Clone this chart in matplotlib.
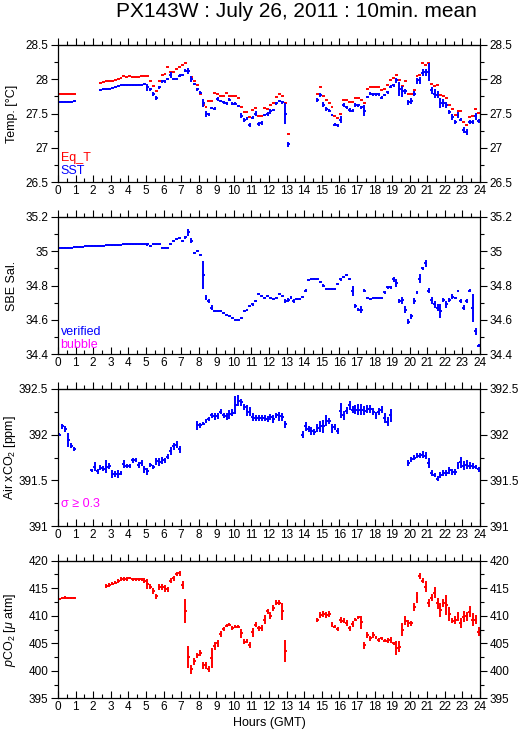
import numpy as np
import matplotlib
matplotlib.use("Agg")
import matplotlib.pyplot as plt
from matplotlib.ticker import MultipleLocator, FormatStrFormatter

nan = np.nan

# 10-minute means, one row per hour (6 values each)
sst = [
    27.66, 27.67, 27.67, 27.67, 27.67, 27.68,
    nan, nan, nan, nan, nan, nan,
    nan, nan, 27.84, 27.85, 27.85, 27.86,
    27.87, 27.88, 27.90, 27.91, 27.91, 27.91,
    27.91, 27.91, 27.91, 27.92, 27.92, 27.93,
    27.88, 27.85, 27.78, 27.72, 27.88, 27.97,
    27.97, 28.00, 28.06, 28.00, 28.00, 28.05,
    28.06, 28.12, 28.12, 28.00, 27.93, 27.85,
    27.80, 27.65, 27.49, 27.49, 27.58, 27.57,
    27.71, 27.68, 27.66, 27.65, 27.70, 27.64,
    27.64, 27.61, 27.47, 27.40, 27.43, 27.33,
    27.44, 27.50, 27.35, 27.36, 27.48, 27.49,
    27.53, 27.55, 27.65, 27.68, 27.66, 27.50,
    27.05, nan, nan, nan, nan, nan,
    nan, nan, nan, nan, 27.69, 27.77,
    27.63, 27.56, 27.54, 27.48, 27.34, 27.33,
    27.41, 27.62, 27.59, 27.55, 27.54, 27.62,
    27.62, 27.59, 27.54, 27.74, 27.79, 27.78,
    27.78, 27.78, 27.73, 27.77, 27.81, 27.89,
    27.91, 27.98, 27.86, 27.82, 27.82, 27.66,
    27.68, 27.79, 27.97, 27.98, 28.09, 28.10,
    28.10, 27.84, 27.79, 27.77, 27.65, 27.65,
    27.62, 27.52, 27.45, 27.38, 27.48, 27.41,
    27.26, 27.23, 27.38, 27.38, 27.46, 27.39,
]
sst_err = [
    0.01, 0.01, 0.01, 0.01, 0.01, 0.01,
    0, 0, 0, 0, 0, 0,
    0, 0, 0.01, 0.01, 0.01, 0.01,
    0.01, 0.01, 0.01, 0.01, 0.01, 0.01,
    0.01, 0.01, 0.01, 0.01, 0.01, 0.02,
    0.05, 0.02, 0.03, 0.03, 0.02, 0.02,
    0.02, 0.02, 0.04, 0.02, 0.02, 0.02,
    0.02, 0.02, 0.04, 0.04, 0.02, 0.02,
    0.02, 0.06, 0.04, 0.02, 0.02, 0.02,
    0.03, 0.02, 0.02, 0.02, 0.02, 0.02,
    0.02, 0.02, 0.04, 0.03, 0.02, 0.03,
    0.02, 0.03, 0.03, 0.03, 0.02, 0.03,
    0.03, 0.02, 0.02, 0.02, 0.02, 0.15,
    0.03, 0, 0, 0, 0, 0,
    0, 0, 0, 0, 0.03, 0.03,
    0.03, 0.03, 0.02, 0.02, 0.02, 0.02,
    0.05, 0.03, 0.02, 0.03, 0.02, 0.03,
    0.02, 0.02, 0.08, 0.02, 0.02, 0.02,
    0.02, 0.02, 0.02, 0.02, 0.02, 0.02,
    0.02, 0.03, 0.10, 0.08, 0.04, 0.04,
    0.04, 0.04, 0.04, 0.05, 0.05, 0.05,
    0.13, 0.05, 0.07, 0.05, 0.07, 0.06,
    0.04, 0.03, 0.04, 0.03, 0.04, 0.02,
    0.05, 0.04, 0.03, 0.03, 0.05, 0.03,
]
eq_t = [
    27.78, 27.78, 27.79, 27.79, 27.78, 27.79,
    nan, nan, nan, nan, nan, nan,
    nan, nan, 27.95, 27.96, 27.97, 27.97,
    27.97, 27.99, 28.00, 28.02, 28.04, 28.03,
    28.04, 28.03, 28.03, 28.03, 28.04, 28.04,
    28.04, 27.97, 27.90, 27.83, 27.97, 28.06,
    28.08, 28.17, 28.10, 28.10, 28.14, 28.17,
    28.21, 28.23, 28.12, 28.03, 27.97, 27.91,
    27.78, 27.63, 27.60, 27.68, 27.68, 27.80,
    27.79, 27.75, 27.76, 27.80, 27.75, 27.75,
    27.75, 27.72, 27.60, 27.52, 27.52, 27.45,
    27.55, 27.58, 27.46, 27.47, 27.58, 27.57,
    27.63, 27.65, 27.74, 27.78, 27.76, 27.65,
    27.20, nan, nan, nan, nan, nan,
    nan, nan, nan, nan, 27.79, 27.88,
    27.75, 27.69, 27.65, 27.60, 27.46, 27.43,
    27.49, 27.70, 27.69, 27.66, 27.66, 27.72,
    27.72, 27.70, 27.65, 27.85, 27.88, 27.88,
    27.89, 27.88, 27.84, 27.85, 27.91, 27.98,
    28.02, 28.06, 27.98, 27.90, 27.97, 27.78,
    27.78, 27.84, 28.05, 28.06, 28.23, 28.20,
    28.23, 27.93, 27.90, 27.91, 27.77, 27.76,
    27.72, 27.62, 27.56, 27.48, 27.54, 27.53,
    27.38, 27.33, 27.45, 27.47, 27.56, 27.51,
]
sal = [
    35.020, 35.020, 35.020, 35.020, 35.020, 35.025,
    35.025, 35.025, 35.025, 35.030, 35.030, 35.030,
    35.030, 35.030, 35.030, 35.030, 35.035, 35.035,
    35.035, 35.035, 35.035, 35.035, 35.040, 35.040,
    35.040, 35.040, 35.040, 35.040, 35.040, 35.040,
    35.040, 35.030, 35.040, 35.040, 35.040, 35.020,
    35.020, 35.020, 35.040, 35.060, 35.070, 35.075,
    35.060, 35.080, 35.110, 35.060, 34.990, 35.000,
    34.980, 34.860, 34.730, 34.710, 34.670, 34.650,
    34.650, 34.650, 34.640, 34.630, 34.620, 34.610,
    34.600, 34.600, 34.610, 34.650, 34.660, 34.680,
    34.690, 34.710, 34.750, 34.740, 34.730, 34.740,
    34.730, 34.720, 34.730, 34.750, 34.740, 34.710,
    34.715, 34.730, 34.710, 34.720, 34.720, 34.735,
    34.770, 34.830, 34.835, 34.840, 34.835, 34.820,
    34.800, 34.780, 34.780, 34.780, 34.780, 34.810,
    34.835, 34.850, 34.860, 34.840, 34.770, 34.680,
    34.660, 34.660, 34.770, 34.730, 34.720, 34.725,
    34.730, 34.725, 34.725, 34.760, 34.790, 34.790,
    34.835, 34.815, 34.710, 34.715, 34.660, 34.590,
    34.620, 34.710, 34.760, 34.840, 34.900, 34.930,
    34.770, 34.715, 34.690, 34.670, 34.650, 34.715,
    34.690, 34.715, 34.735, 34.730, 34.770, 34.710,
    34.670, 34.710, 34.770, 34.670, 34.535, 34.450,
]
sal_err = [
    0.003, 0.003, 0.003, 0.003, 0.003, 0.003,
    0.003, 0.003, 0.003, 0.003, 0.003, 0.003,
    0.003, 0.003, 0.003, 0.003, 0.003, 0.003,
    0.003, 0.003, 0.003, 0.003, 0.003, 0.003,
    0.003, 0.003, 0.003, 0.003, 0.003, 0.003,
    0.008, 0.005, 0.003, 0.004, 0.003, 0.003,
    0.003, 0.003, 0.005, 0.005, 0.004, 0.004,
    0.006, 0.010, 0.020, 0.015, 0.006, 0.008,
    0.006, 0.080, 0.015, 0.010, 0.015, 0.006,
    0.004, 0.004, 0.004, 0.004, 0.004, 0.004,
    0.003, 0.003, 0.005, 0.006, 0.006, 0.006,
    0.010, 0.006, 0.004, 0.005, 0.005, 0.005,
    0.004, 0.004, 0.004, 0.005, 0.005, 0.012,
    0.010, 0.008, 0.012, 0.005, 0.005, 0.006,
    0.010, 0.004, 0.004, 0.004, 0.004, 0.004,
    0.008, 0.006, 0.004, 0.004, 0.004, 0.006,
    0.006, 0.005, 0.004, 0.006, 0.030, 0.010,
    0.010, 0.020, 0.010, 0.005, 0.004, 0.004,
    0.004, 0.004, 0.004, 0.010, 0.010, 0.010,
    0.015, 0.025, 0.010, 0.020, 0.020, 0.015,
    0.015, 0.020, 0.010, 0.025, 0.010, 0.020,
    0.015, 0.020, 0.020, 0.020, 0.040, 0.010,
    0.020, 0.010, 0.015, 0.006, 0.006, 0.010,
    0.015, 0.010, 0.010, 0.080, 0.020, 0.010,
]
air = [
    392.00, 392.09, 392.06, 391.94, 391.88, 391.84,
    nan, nan, nan, nan, nan, 391.61,
    391.65, 391.60, 391.64, 391.63, 391.65, 391.66,
    391.57, 391.57, 391.57, 391.58, 391.68, 391.66,
    391.66, 391.72, 391.72, 391.67, 391.69, 391.62,
    391.60, 391.67, 391.65, 391.71, 391.70, 391.72,
    391.72, 391.76, 391.82, 391.87, 391.89, 391.84,
    nan, nan, nan, nan, nan, 392.10,
    392.10, 392.12, 392.15, 392.17, 392.21, 392.20,
    392.20, 392.25, 392.21, 392.20, 392.22, 392.24,
    392.32, 392.37, 392.35, 392.30, 392.26, 392.25,
    392.19, 392.18, 392.18, 392.18, 392.18, 392.17,
    392.19, 392.17, 392.21, 392.20, 392.19, 392.11,
    nan, nan, nan, nan, nan, 392.00,
    392.09, 392.06, 392.04, 392.03, 392.07, 392.09,
    392.09, 392.15, 392.15, 392.07, 392.08, 392.04,
    392.26, 392.21, 392.26, 392.32, 392.27, 392.27,
    392.27, 392.27, 392.26, 392.28, 392.28, 392.25,
    392.21, 392.25, 392.27, 392.18, 392.14, 392.21,
    nan, nan, nan, nan, nan, 391.69,
    391.73, 391.75, 391.77, 391.77, 391.78, 391.77,
    391.69, 391.58, 391.56, 391.52, 391.56, 391.58,
    391.58, 391.61, 391.59, 391.59, 391.66, 391.70,
    391.66, 391.67, 391.66, 391.66, 391.65, 391.62,
]
air_err = [
    0.02, 0.03, 0.03, 0.08, 0.03, 0.02,
    0, 0, 0, 0, 0, 0.02,
    0.05, 0.03, 0.03, 0.03, 0.07, 0.03,
    0.04, 0.03, 0.04, 0.02, 0.04, 0.02,
    0.02, 0.03, 0.02, 0.03, 0.03, 0.04,
    0.04, 0.02, 0.02, 0.04, 0.04, 0.04,
    0.03, 0.03, 0.04, 0.04, 0.04, 0.04,
    0, 0, 0, 0, 0, 0.05,
    0.03, 0.02, 0.02, 0.02, 0.03, 0.04,
    0.03, 0.03, 0.03, 0.04, 0.05, 0.04,
    0.10, 0.06, 0.04, 0.03, 0.06, 0.05,
    0.04, 0.03, 0.03, 0.03, 0.03, 0.03,
    0.03, 0.04, 0.03, 0.05, 0.04, 0.04,
    0, 0, 0, 0, 0, 0.04,
    0.05, 0.03, 0.04, 0.03, 0.04, 0.06,
    0.07, 0.06, 0.03, 0.05, 0.03, 0.03,
    0.08, 0.05, 0.04, 0.05, 0.04, 0.05,
    0.06, 0.06, 0.05, 0.04, 0.04, 0.04,
    0.04, 0.04, 0.04, 0.05, 0.05, 0.07,
    0, 0, 0, 0, 0, 0.03,
    0.03, 0.03, 0.03, 0.03, 0.04, 0.04,
    0.05, 0.03, 0.02, 0.03, 0.03, 0.03,
    0.03, 0.04, 0.03, 0.03, 0.04, 0.06,
    0.05, 0.05, 0.04, 0.03, 0.02, 0.03,
]
pco2 = [
    413.0, 413.2, 413.3, 413.2, 413.2, 413.2,
    nan, nan, nan, nan, nan, nan,
    nan, nan, nan, nan, 415.4, 415.6,
    415.8, 416.0, 416.3, 416.7, 416.7, 416.7,
    416.8, 416.6, 416.6, 416.6, 416.6, 416.4,
    415.7, 415.3, 414.5, 413.5, 415.2, 415.2,
    415.0, 414.8, 416.4, 416.8, 417.6, 417.7,
    415.6, 410.9, 402.5, 400.3, 401.7, 402.8,
    403.2, 401.0, 401.0, 400.3, 402.3, 404.5,
    405.0, 406.7, 407.6, 408.2, 408.4, 407.8,
    408.0, 408.0, 406.8, 405.3, 405.4, 404.7,
    407.0, 408.4, 407.7, 407.8, 409.3, 410.8,
    410.0, 411.4, 412.4, 412.4, 410.8, 403.6,
    nan, nan, nan, nan, nan, nan,
    nan, nan, nan, nan, 409.2, 410.1,
    410.3, 410.1, 410.3, 408.4, 408.0, 407.6,
    409.2, 409.1, 408.7, 407.7, 408.5, 409.3,
    409.7, 408.8, 404.6, 406.5, 405.9, 406.5,
    406.1, 405.6, 405.9, 405.5, 405.5, 405.6,
    405.0, 404.1, 404.4, 407.5, 409.1, 408.6,
    408.6, 411.6, 413.3, 417.2, 416.4, 415.3,
    412.3, 413.3, 414.2, 412.3, 411.0, 412.3,
    412.0, 410.3, 409.1, 409.2, 409.8, 408.7,
    409.8, 409.9, 410.7, 409.3, 409.3, 407.1,
]
pco2_err = [
    0.2, 0.2, 0.2, 0.2, 0.2, 0.2,
    0, 0, 0, 0, 0, 0,
    0, 0, 0, 0, 0.3, 0.3,
    0.3, 0.3, 0.3, 0.3, 0.3, 0.3,
    0.2, 0.2, 0.2, 0.2, 0.2, 0.4,
    0.9, 0.4, 0.6, 0.4, 0.6, 0.6,
    0.6, 0.5, 0.4, 0.4, 0.4, 0.4,
    0.8, 2.2, 2.0, 0.8, 0.7, 0.5,
    0.5, 0.6, 0.6, 0.5, 1.8, 0.8,
    0.6, 0.5, 0.4, 0.3, 0.3, 0.3,
    0.3, 0.3, 0.8, 0.5, 0.4, 0.5,
    0.8, 0.4, 0.5, 0.6, 0.8, 0.5,
    0.6, 0.5, 0.4, 0.4, 1.5, 2.0,
    0, 0, 0, 0, 0, 0,
    0, 0, 0, 0, 0.4, 0.6,
    0.5, 0.5, 0.5, 0.4, 0.3, 0.4,
    0.6, 0.5, 0.5, 0.4, 0.5, 0.3,
    0.3, 1.2, 0.6, 0.5, 0.4, 0.5,
    0.3, 0.3, 0.3, 0.3, 0.4, 0.5,
    0.3, 1.3, 1.0, 1.2, 0.8, 0.6,
    0.4, 0.7, 1.0, 0.6, 0.5, 1.0,
    0.8, 0.7, 1.0, 1.0, 1.3, 0.7,
    1.8, 1.3, 0.5, 0.7, 0.8, 0.9,
    1.0, 0.8, 1.0, 1.2, 0.8, 0.8,
]

hours = (np.arange(144) + 0.5) / 6.0
half = 5.0 / 60.0

plt.rcParams['font.family'] = ['Liberation Sans', 'DejaVu Sans']
plt.rcParams['mathtext.fontset'] = 'custom'
plt.rcParams['mathtext.rm'] = 'Liberation Sans'
plt.rcParams['mathtext.it'] = 'Liberation Sans:italic'

fig = plt.figure(figsize=(5.29, 7.39), dpi=100)
fig.text(0.561, 0.984, "PX143W : July 26, 2011 : 10min. mean", ha='center', va='center', fontsize=15)

left, width, height = 58 / 529, 422 / 529, 137.6 / 739
bottoms = [1 - 182.3 / 739, 1 - 354.3 / 739, 1 - 526.3 / 739, 1 - 698.3 / 739]


def setup_axis(ax, ylim, major, minor, label):
    ax.set_xlim(0, 24)
    ax.set_ylim(*ylim)
    ax.xaxis.set_major_locator(MultipleLocator(1))
    ax.xaxis.set_minor_locator(MultipleLocator(0.5))
    ax.yaxis.set_major_locator(MultipleLocator(major))
    ax.yaxis.set_minor_locator(MultipleLocator(minor))
    ax.yaxis.set_major_formatter(FormatStrFormatter('%g'))
    ax.tick_params(axis='y', which='both', direction='out', left=True, right=True,
                   labelright=True)
    ax.tick_params(axis='x', which='both', direction='in', top=False)
    ax.tick_params(which='both', labelsize=8.5, width=0.8, pad=2)
    ax.tick_params(which='major', length=5)
    ax.tick_params(which='minor', length=3)
    # top ticks point outward
    top = ax.secondary_xaxis('top')
    top.xaxis.set_major_locator(MultipleLocator(1))
    top.xaxis.set_minor_locator(MultipleLocator(0.5))
    top.tick_params(which='both', direction='out', labeltop=False, width=0.8)
    top.tick_params(which='major', length=5)
    top.tick_params(which='minor', length=3)
    ax.set_ylabel(label, fontsize=9)
    ax.yaxis.set_label_coords(-0.094, 0.5)
    for s in ax.spines.values():
        s.set_linewidth(0.9)


# Temperature
ax1 = fig.add_axes([left, bottoms[0], width, height])
ax1.errorbar(hours, eq_t, xerr=half, fmt='none', ecolor='red', elinewidth=1.4)
ax1.errorbar(hours, sst, xerr=half, yerr=sst_err, fmt='none', ecolor='blue', elinewidth=1.4)
setup_axis(ax1, (26.5, 28.5), 0.5, 0.25, "Temp. [\u00b0C]")
ax1.text(0.006, 0.177, "Eq_T", color='red', transform=ax1.transAxes, fontsize=9, va='center')
ax1.text(0.006, 0.082, "SST", color='blue', transform=ax1.transAxes, fontsize=9, va='center')

# Salinity
ax2 = fig.add_axes([left, bottoms[1], width, height])
ax2.errorbar(hours, sal, xerr=half, yerr=sal_err, fmt='none', ecolor='blue', elinewidth=1.4)
setup_axis(ax2, (34.4, 35.2), 0.2, 0.1, "SBE Sal.")
ax2.text(0.006, 0.162, "verified", color='blue', transform=ax2.transAxes, fontsize=9, va='center')
ax2.text(0.006, 0.069, "bubble", color='magenta', transform=ax2.transAxes, fontsize=9, va='center')

# Air xCO2
ax3 = fig.add_axes([left, bottoms[2], width, height])
ax3.errorbar(hours, air, xerr=half, yerr=air_err, fmt='none', ecolor='blue', elinewidth=1.4)
setup_axis(ax3, (391, 392.5), 0.5, 0.25, r"Air xCO$_2$ [ppm]")
ax3.text(0.006, 0.162, "\u03c3 \u2265 0.3", color='magenta', transform=ax3.transAxes, fontsize=9, va='center')

# pCO2
ax4 = fig.add_axes([left, bottoms[3], width, height])
ax4.errorbar(hours, pco2, xerr=half, yerr=pco2_err, fmt='none', ecolor='red', elinewidth=1.4)
setup_axis(ax4, (395, 420), 5, 2.5, r"$p$CO$_2$ [$\mu$ atm]")
ax4.set_xlabel("Hours (GMT)", fontsize=9, labelpad=3)

fig.savefig("out.png", dpi=100)
